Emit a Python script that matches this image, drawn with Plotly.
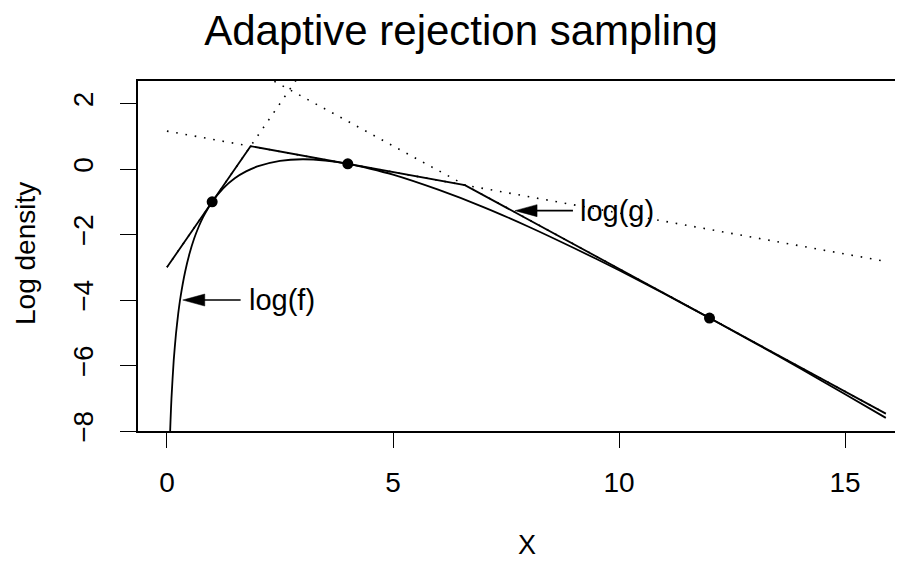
import plotly.graph_objects as go

# ---- data ----
logf_x = [0.07, 0.08, 0.1, 0.15, 0.2, 0.25, 0.3, 0.4, 0.5, 0.6, 0.7, 0.8, 0.9, 1.0,
          1.25, 1.5, 1.75, 2.0, 2.5, 3.0, 3.5, 4.0, 4.5, 5, 6, 7, 8, 9, 10, 11, 12,
          13, 14, 15, 15.9]
logf_y = [-8.05, -7.66, -7.01, -5.84, -5.03, -4.41, -3.91, -3.15, -2.58, -2.13, -1.77,
          -1.47, -1.22, -1.0, -0.58, -0.28, -0.07, 0.08, 0.25, 0.30, 0.26, 0.16, 0.01,
          -0.17, -0.63, -1.16, -1.76, -2.41, -3.09, -3.81, -4.55, -5.31, -6.08, -6.88,
          -7.60]

hull_x = [0.0, 1.85, 6.59, 15.9]
hull_y = [-3.0, 0.70, -0.49, -7.47]

tan_x = [0.0, 15.9]
tan1_y = [-3.0, 28.8]
tan2_y = [1.16, -2.82]
tan3_y = [4.46, -7.47]

pts_x = [1, 4, 12]
pts_y = [-1.0, 0.16, -4.55]

labels = ["log(f)", "log(g)"]
arrow_from_x = [1.63, 8.98]
arrow_to_x = [0.35, 7.70]
arrow_y = [-4.0, -1.27]
label_x = [1.78, 9.10]

xticks = [0, 5, 10, 15]
yticks = [-8, -6, -4, -2, 0, 2]

# ---- layout geometry (page offset of 8px from the default body margin) ----
OFF = 8
W, H = 903 - OFF, 562 - OFF
ML, MR, MT = 138 - OFF, 0, 81 - OFF
PLOT_BOTTOM = 431 - OFF
MB = H - PLOT_BOTTOM
xr = [-0.64, 16.28]
yr = [-8.0, 2.69]
pw, ph = W - ML - MR, H - MT - MB
px_x = pw / (xr[1] - xr[0])
px_y = ph / (yr[1] - yr[0])

FONT = "Liberation Sans, Arial, Helvetica, sans-serif"
dotted = "1.6px,7.8px"

fig = go.Figure()
for ty in (tan1_y, tan2_y, tan3_y):
    fig.add_trace(go.Scatter(x=tan_x, y=ty, mode="lines",
                             line=dict(color="black", width=1.6, dash=dotted),
                             hoverinfo="skip"))
fig.add_trace(go.Scatter(x=hull_x, y=hull_y, mode="lines",
                         line=dict(color="black", width=1.8), hoverinfo="skip"))
fig.add_trace(go.Scatter(x=logf_x, y=logf_y, mode="lines",
                         line=dict(color="black", width=1.8, shape="spline", smoothing=0.6),
                         hoverinfo="skip"))
fig.add_trace(go.Scatter(x=pts_x, y=pts_y, mode="markers",
                         marker=dict(color="black", size=11), hoverinfo="skip"))

shapes = []
annotations = []
head_len = 22 / px_x
head_half = 6 / px_y
for lab, x0, x1, y, lx in zip(labels, arrow_from_x, arrow_to_x, arrow_y, label_x):
    shapes.append(dict(type="line", xref="x", yref="y", x0=x0, x1=x1 + head_len * 0.8,
                       y0=y, y1=y, line=dict(color="black", width=1.6)))
    shapes.append(dict(type="path", xref="x", yref="y",
                       path=f"M {x1},{y} L {x1 + head_len},{y + head_half} "
                            f"L {x1 + head_len},{y - head_half} Z",
                       fillcolor="black", line=dict(color="black", width=0.5)))
    annotations.append(dict(x=lx, y=y, xref="x", yref="y", text=lab, showarrow=False,
                            xanchor="left", yanchor="middle",
                            font=dict(family=FONT, size=29, color="black")))

annotations.append(dict(x=(527 - OFF - ML) / pw, y=(PLOT_BOTTOM - (545 - OFF)) / ph,
                        xref="paper", yref="paper",
                        text="X", showarrow=False, xanchor="center", yanchor="middle",
                        font=dict(family=FONT, size=27, color="black")))
annotations.append(dict(x=(25 - OFF - ML) / pw, y=(PLOT_BOTTOM - (254 - OFF)) / ph,
                        xref="paper", yref="paper",
                        text="Log density", showarrow=False, textangle=-90,
                        xanchor="center", yanchor="middle",
                        font=dict(family=FONT, size=28, color="black")))

fig.update_layout(
    width=W, height=H,
    margin=dict(l=ML, r=MR, t=MT, b=MB, pad=0),
    paper_bgcolor="white", plot_bgcolor="white",
    showlegend=False,
    title=dict(text="Adaptive rejection sampling", x=(461 - OFF) / W, xanchor="center",
               xref="container", y=1 - (30 - OFF) / H, yanchor="middle", yref="container",
               font=dict(family=FONT, size=42, color="black")),
    shapes=shapes, annotations=annotations,
    xaxis=dict(range=xr, showgrid=False, zeroline=False, showline=True, mirror=True,
               linecolor="black", linewidth=1.5, ticks="outside", ticklen=15,
               tickwidth=1.2, tickcolor="black", tickvals=xticks,
               ticktext=[str(v) for v in xticks], ticklabelstandoff=11,
               tickfont=dict(family=FONT, size=28, color="black")),
    yaxis=dict(range=yr, showgrid=False, zeroline=False, showline=True, mirror=False,
               linecolor="black", linewidth=1.5, ticks="outside", ticklen=16,
               tickwidth=1.2, tickcolor="black", tickvals=yticks,
               ticktext=[str(v).replace("-", "\u2212") for v in yticks],
               tickangle=-90, ticklabelstandoff=16,
               tickfont=dict(family=FONT, size=28, color="black")),
)

fig.write_html("out.html")
